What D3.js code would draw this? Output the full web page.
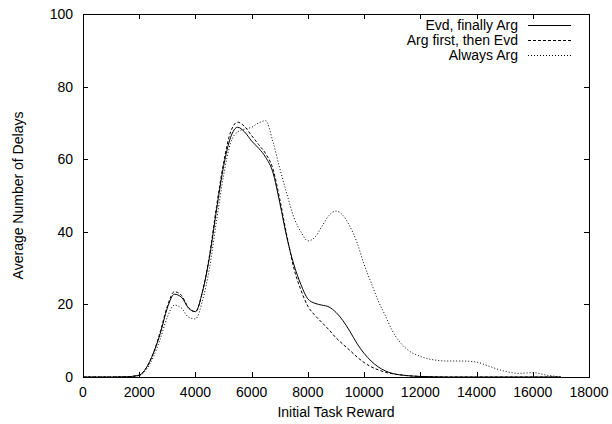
<!DOCTYPE html>
<html>
<head>
<meta charset="utf-8">
<script src="https://cdn.jsdelivr.net/npm/d3@7"></script>
<style>
  body { margin: 0; background: #fff; }
  text { font-family: "Liberation Sans", Arial, sans-serif; font-size: 14px; fill: #000; }
</style>
</head>
<body>
<div id="vis"></div>
<script>
// reward values (x) shared by all three series
var rewards = [0, 1000, 1500, 2000, 2250, 2500, 2750, 3000, 3250, 3500, 3750, 4000, 4250, 4500, 4750,
  5000, 5250, 5500, 5750, 6000, 6250, 6500, 6750, 7000, 7250, 7500, 7750, 8000, 8250, 8500, 8750,
  9000, 9250, 9500, 9750, 10000, 10250, 10500, 10750, 11000, 11500, 12000, 12500, 13000, 13500,
  14000, 14500, 15000, 15500, 16000, 16500, 17000];

var evdFinallyArg = [0, 0, 0.05, 0.5, 2.5, 6.5, 12, 19, 22.8, 22, 19, 18, 23.5, 33, 46,
  58, 66, 68.8, 67.5, 65, 63, 60.5, 56.5, 48, 38.5, 31, 25.5, 21.5, 20.3, 19.8, 19.3,
  17.8, 15.5, 12.5, 9.2, 6.5, 4.4, 2.8, 1.7, 1.0, 0.4, 0.15, 0.05, 0, 0,
  0, 0, 0, 0, 0, 0, 0];

var argThenEvd = [0, 0, 0.05, 0.5, 2.5, 6.5, 12.5, 19.5, 23.5, 22.5, 19.2, 18, 23.5, 33.5, 47,
  59, 67.5, 70.2, 69, 66.5, 64, 61.5, 57.5, 49, 39, 30, 24, 19.5, 17, 15, 13,
  10.8, 9, 7.3, 5.5, 4, 2.8, 2, 1.3, 0.9, 0.4, 0.15, 0.05, 0, 0,
  0, 0, 0, 0, 0, 0, 0];

var alwaysArg = [0, 0, 0.05, 0.4, 2, 5.5, 10.5, 16.5, 19.8, 19, 16.5, 16, 21, 30, 43,
  55.5, 64.5, 67.5, 68.3, 68.8, 70, 70.6, 65, 57.5, 50.5, 44, 40, 37.5, 38.5, 41.5, 44.5,
  45.7, 44.5, 41.4, 37, 31, 26, 21, 17, 12.8, 7.8, 5.7, 4.7, 4.4, 4.4,
  4.1, 2.8, 1.6, 1.0, 1.2, 0.5, 0];

var seriesNames = ['Evd, finally Arg', 'Arg first, then Evd', 'Always Arg'];
var seriesValues = [evdFinallyArg, argThenEvd, alwaysArg];
var xTicks = [0, 2000, 4000, 6000, 8000, 10000, 12000, 14000, 16000, 18000];
var yTicks = [0, 20, 40, 60, 80, 100];

var width = 612, height = 424;
var margin = { left: 83, right: 23, top: 14, bottom: 47 };
var dashes = [null, '3,2', '1,2'];

var svg = d3.select('#vis').append('svg')
  .attr('width', width)
  .attr('height', height);

var x = d3.scaleLinear().domain([0, 18000]).range([margin.left, width - margin.right]);
var y = d3.scaleLinear().domain([0, 100]).range([height - margin.bottom, margin.top]);

// ticks on all four sides, pointing inward (gnuplot style)
var tickLen = 5;
var g = svg.append('g').attr('stroke', '#000').attr('stroke-width', 1);
xTicks.forEach(function(t) {
  var px = Math.round(x(t)) + 0.5;
  g.append('line').attr('x1', px).attr('x2', px).attr('y1', y(0)).attr('y2', y(0) - tickLen);
  g.append('line').attr('x1', px).attr('x2', px).attr('y1', y(100)).attr('y2', y(100) + tickLen);
});
yTicks.forEach(function(t) {
  var py = Math.round(y(t)) + 0.5;
  g.append('line').attr('x1', x(0)).attr('x2', x(0) + tickLen).attr('y1', py).attr('y2', py);
  g.append('line').attr('x1', x(18000)).attr('x2', x(18000) - tickLen).attr('y1', py).attr('y2', py);
});

svg.selectAll('.xlab').data(xTicks).enter().append('text')
  .attr('x', function(d) { return x(d); })
  .attr('y', y(0) + 20)
  .attr('text-anchor', 'middle')
  .text(function(d) { return d; });

svg.selectAll('.ylab').data(yTicks).enter().append('text')
  .attr('x', x(0) - 10)
  .attr('y', function(d) { return y(d) + 5; })
  .attr('text-anchor', 'end')
  .text(function(d) { return d; });

// the curves
var line = d3.line()
  .x(function(d) { return x(d[0]); })
  .y(function(d) { return y(d[1]); })
  .curve(d3.curveMonotoneX);

seriesValues.forEach(function(vals, i) {
  svg.append('path')
    .datum(rewards.map(function(r, j) { return [r, vals[j]]; }))
    .attr('fill', 'none')
    .attr('stroke', '#000')
    .attr('stroke-width', 1)
    .attr('stroke-dasharray', dashes[i])
    .attr('d', line);
});

// frame
svg.append('rect')
  .attr('x', Math.round(x(0)) + 0.5)
  .attr('y', Math.round(y(100)) + 0.5)
  .attr('width', Math.round(x(18000)) - Math.round(x(0)))
  .attr('height', Math.round(y(0)) - Math.round(y(100)))
  .attr('fill', 'none')
  .attr('stroke', '#000');

// legend
var legend = svg.append('g');
seriesNames.forEach(function(name, i) {
  var ly = 25 + i * 15;
  legend.append('text')
    .attr('x', 518)
    .attr('y', ly + 5)
    .attr('text-anchor', 'end')
    .text(name);
  legend.append('line')
    .attr('x1', 528).attr('x2', 571)
    .attr('y1', ly + 0.5).attr('y2', ly + 0.5)
    .attr('stroke', '#000')
    .attr('stroke-dasharray', dashes[i]);
});

// axis titles
svg.append('text')
  .attr('x', (x(0) + x(18000)) / 2)
  .attr('y', 417)
  .attr('text-anchor', 'middle')
  .text('Initial Task Reward');

svg.append('text')
  .attr('transform', 'translate(23,' + (y(0) + y(100)) / 2 + ') rotate(-90)')
  .attr('text-anchor', 'middle')
  .text('Average Number of Delays');
</script>
</body>
</html>
